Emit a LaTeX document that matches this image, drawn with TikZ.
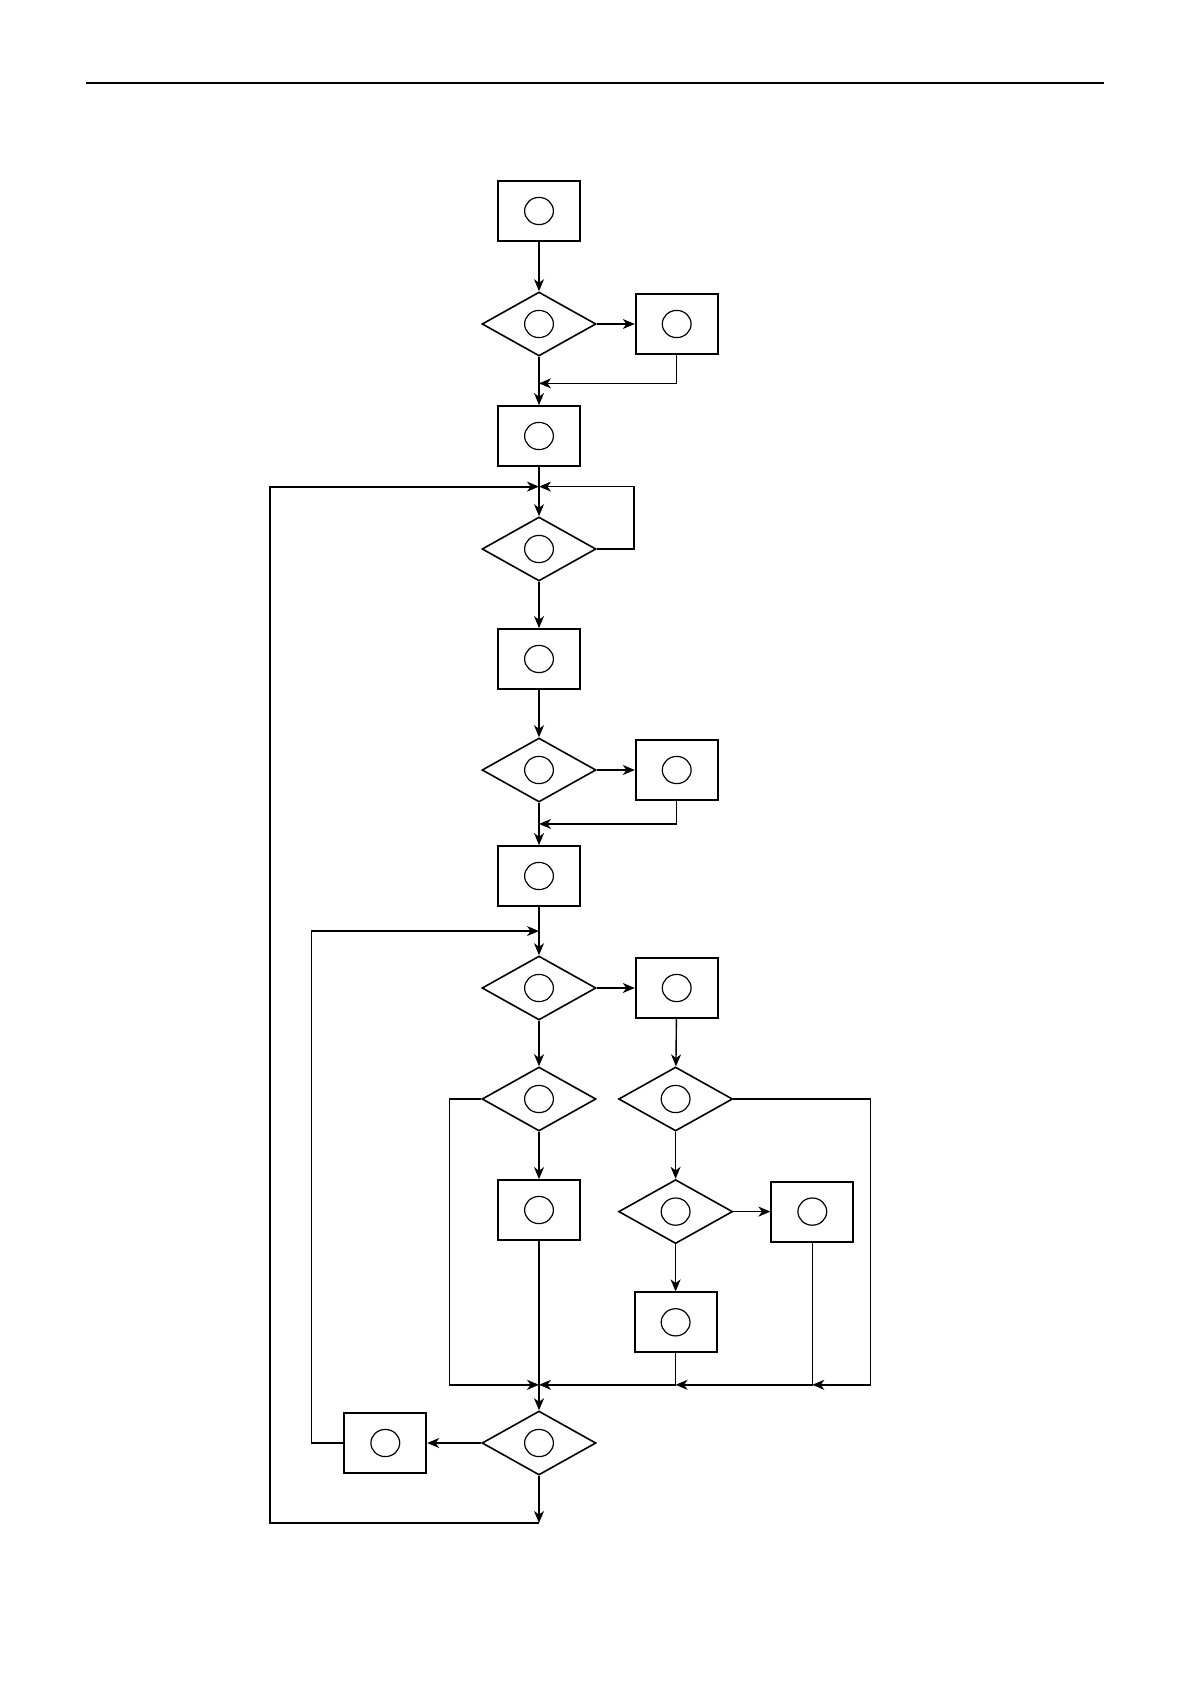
\documentclass[tikz,border=0pt]{standalone}
\usepackage{tikz}
\usetikzlibrary{arrows.meta,positioning,calc,shapes.geometric}
\tikzset{
 withring/.style={path picture={\draw[line width=0.6pt] (path picture bounding box.center)
   ellipse[x radius=7.2pt,y radius=6.8pt];}},
 stepbox/.style={draw=black,line width=0.9pt,minimum width=41pt,minimum height=30pt,
   inner sep=0pt,withring},
 testbox/.style={diamond,draw=black,line width=0.8pt,minimum width=57pt,minimum height=32pt,
   inner sep=0pt,withring},
 arrow/.style={-{Stealth[length=6pt,width=5pt,inset=1.8pt]},line width=0.7pt,draw=black},
 plain/.style={line width=0.7pt,draw=black}
}

\begin{document}
\begin{tikzpicture}[x=0.5pt,y=-0.5pt,node distance=23.5pt and 19pt]
 \useasboundingbox (0,0) rectangle (1190,1684);
 \draw[line width=1.2pt] (86,83) -- (1104,83);
 % main column
 \node[stepbox] (b1) at (539,211) {};
 \node[testbox] (d1) at (539,324) {};
 \node[stepbox] (b3) at (539,436) {};
 \node[testbox] (d2) at (539,549) {};
 \node[stepbox] (b4) at (539,659) {};
 \node[testbox] (d3) at (539,770) {};
 \node[stepbox] (b6) at (539,876) {};
 \node[testbox] (d4) at (539,988) {};
 \node[testbox] (d5) at (539,1099) {};
 \node[stepbox] (b8) at (539,1210) {};
 \node[testbox] (d8) at (539,1443) {};
 \coordinate (c8) at (539,1523);
 % side nodes
 \node[stepbox,right=of d1] (b2) {};
 \node[stepbox,right=of d3] (b5) {};
 \node[stepbox,right=of d4] (b7) {};
 \node[testbox,right=10.5pt of d5] (d6) {};
 \node[testbox,below=of d6] (d7) {};
 \node[stepbox,right=18.5pt of d7] (b9) {};
 \node[stepbox,below=of d7] (b10) {};
 \node[stepbox,left=27pt of d8] (b11) {};
 % junctions
 \coordinate (j1) at ($(d1.south)!.55!(b3.north)$);
 \coordinate (j2) at ($(b3.south)!.4!(d2.north)$);
 \coordinate (j3) at ($(d3.south)!.5!(b6.north)$);
 \coordinate (j4) at ($(b6.south)!.5!(d4.north)$);
 \coordinate (j5) at ($(b8.south)!.85!(d8.north)$);
 \coordinate (j6) at (b10.south |- j5);
 \coordinate (j7) at (b9.south |- j5);
 % connectors
 \draw[arrow] (b1) -- (d1);
 \draw[arrow] (d1) -- (b2);
 \draw[arrow] (d1) -- (b3);
 \draw[arrow] (b2.south) |- (j1);
 \draw[arrow] (b3) -- (d2);
 \draw[arrow] (d2.east) -- ++(37,0) |- (j2);
 \draw[arrow] (d2) -- (b4);
 \draw[arrow] (b4) -- (d3);
 \draw[arrow] (d3) -- (b5);
 \draw[arrow] (d3) -- (b6);
 \draw[arrow] (b5.south) |- (j3);
 \draw[arrow] (b6) -- (d4);
 \draw[arrow] (d4) -- (b7);
 \draw[arrow] (d4) -- (d5);
 \draw[arrow] (b7) -- (d6);
 \draw[arrow] (d5) -- (b8);
 \draw[arrow] (d6) -- (d7);
 \draw[arrow] (d7) -- (b9);
 \draw[arrow] (d7) -- (b10);
 \draw[arrow] (d5.west) -- ++(-32,0) |- (j5);
 \draw[arrow] (d6.east) -- ++(137,0) |- (j7);
 \draw[arrow] (b9.south) |- (j6);
 \draw[arrow] (b10.south) |- (j5);
 \draw[arrow] (b8) -- (d8);
 \draw[arrow] (d8) -- (b11);
 \draw[arrow] (b11.west) -- ++(-32,0) |- (j4);
 \draw[arrow] (d8) -- (c8);
 \draw[arrow,line width=0.9pt] (c8) -- ++(-269,0) |- (j2);
\end{tikzpicture}
\end{document}
